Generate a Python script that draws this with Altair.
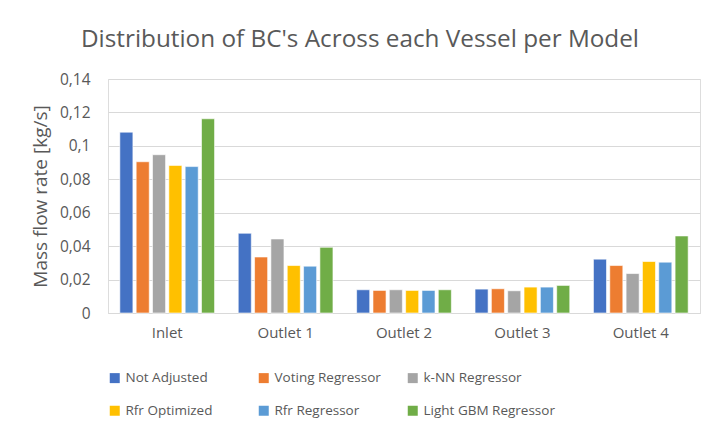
import altair as alt
import pandas as pd

vessels = ["Inlet", "Outlet 1", "Outlet 2", "Outlet 3", "Outlet 4"]
models = ["Not Adjusted", "Voting Regressor", "k-NN Regressor",
          "Rfr Optimized", "Rfr Regressor", "Light GBM Regressor"]
colors = ["#4472C4", "#ED7D31", "#A5A5A5", "#FFC000", "#5B9BD5", "#70AD47"]

not_adjusted = [0.1082, 0.0477, 0.0139, 0.0143, 0.0322]
voting = [0.0905, 0.0335, 0.0135, 0.0145, 0.0284]
knn = [0.0947, 0.0443, 0.0139, 0.0133, 0.0236]
rfr_opt = [0.0883, 0.0284, 0.0135, 0.0155, 0.0308]
rfr_reg = [0.0876, 0.0280, 0.0135, 0.0155, 0.0304]
lgbm = [0.1162, 0.0393, 0.0139, 0.0165, 0.0461]

series = [not_adjusted, voting, knn, rfr_opt, rfr_reg, lgbm]
y_ticks = [0, 0.02, 0.04, 0.06, 0.08, 0.1, 0.12, 0.14]

rows = []
for m, vals in zip(models, series):
    for v, val in zip(vessels, vals):
        rows.append({"Vessel": v, "Model": m, "Value": val})
df = pd.DataFrame(rows)

FONT = "Open Sans"
GRAY = "#595959"

chart = alt.Chart(df).mark_bar(stroke="white", strokeWidth=0.6).encode(
    x=alt.X("Vessel:N", sort=vessels,
            scale=alt.Scale(paddingInner=0.2, paddingOuter=0.1),
            axis=alt.Axis(title=None, labelAngle=0, ticks=False,
                          labelPadding=12, labelFontSize=15, labelColor=GRAY,
                          labelFont=FONT, domainColor="#D9D9D9", domainWidth=1)),
    xOffset=alt.XOffset("Model:N", sort=models,
                        scale=alt.Scale(paddingInner=0.2, paddingOuter=0)),
    y=alt.Y("Value:Q", scale=alt.Scale(domain=[0, 0.14], nice=False),
            axis=alt.Axis(title="Mass flow rate [kg/s]", values=y_ticks,
                          labelExpr="replace(format(datum.value, '~g'), '.', ',')",
                          ticks=False, domain=False, labelPadding=18,
                          labelFontSize=15.5, labelColor=GRAY, labelFont=FONT,
                          titleFontSize=19, titleFont=FONT, titleColor=GRAY,
                          titleFontWeight="normal", titlePadding=9,
                          gridColor="#D9D9D9", gridWidth=1)),
    color=alt.Color("Model:N", sort=models,
                    scale=alt.Scale(domain=models, range=colors),
                    legend=alt.Legend(title=None, orient="none", legendX=0, legendY=292,
                                      direction="horizontal", columns=3,
                                      gridAlign="all", symbolType="square",
                                      symbolSize=100, symbolStrokeWidth=0,
                                      labelFontSize=13.5, labelColor=GRAY,
                                      labelFont=FONT, columnPadding=0,
                                      rowPadding=18, labelOffset=4, labelLimit=300)),
).properties(
    width=592, height=234,
    title=alt.TitleParams("Distribution of BC's Across each Vessel per Model",
                          fontSize=24.3, font=FONT, color=GRAY, fontWeight="normal",
                          anchor="middle", dx=-44, offset=20),
    autosize=alt.AutoSizeParams(type="none"),
    padding={"left": 100, "top": 71, "right": 7, "bottom": 112},
).configure_view(stroke=None).configure(background="white")

chart.save("out.html", embed_options={"renderer": "svg", "actions": False})
